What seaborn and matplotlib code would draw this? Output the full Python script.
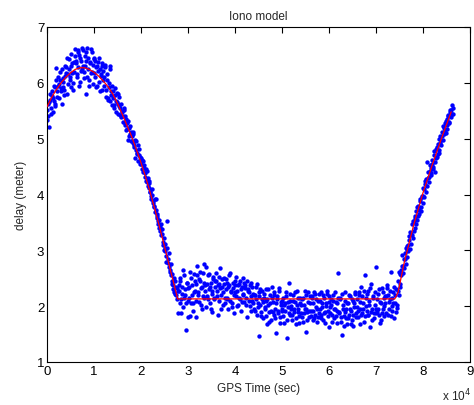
import numpy as np
import pandas as pd
import matplotlib
matplotlib.use("Agg")
import matplotlib.pyplot as plt
import seaborn as sns

# ---- data ----
# measured delay (m): two interleaved sample sets, every 200 s,
# the first starting at t = 0 s, the second at t = 100 s
sample_step = 200
delay_measured_a = [
    5.33, 5.62, 5.21, 5.70, 5.55, 5.76, 5.48, 5.68, 5.93, 5.58,
    6.27, 5.85, 5.95, 5.72, 6.05, 5.90, 5.62, 6.02, 5.88, 6.12,
    6.28, 5.80, 6.15, 6.42, 6.05, 5.92, 6.30, 6.18, 6.00, 6.38,
    6.60, 6.35, 6.10, 6.55, 5.95, 6.45, 6.22, 6.62, 6.30, 6.08,
    6.48, 5.80, 6.40, 6.62, 6.25, 6.05, 6.35, 6.18, 6.55, 5.98,
    6.42, 6.10, 5.92, 6.30, 6.38, 6.02, 6.25, 6.15, 5.88, 6.35,
    6.22, 5.95, 6.28, 5.75, 6.05, 5.70, 5.92, 6.30, 5.78, 5.60,
    5.72, 5.55, 5.90, 5.68, 5.82, 5.62, 5.45, 5.75, 5.55, 5.38,
    5.48, 5.30, 5.55, 5.25, 5.36, 5.18, 5.32, 5.05, 5.22, 4.95,
    5.05, 4.92, 5.12, 4.88, 4.65, 4.95, 4.75, 4.60, 4.82, 4.68,
    4.65, 4.45, 4.60, 4.52, 4.38, 4.25, 4.42, 4.30, 4.12, 4.20,
    4.05, 3.92, 4.10, 3.85, 3.80, 3.68, 3.92, 3.62, 3.48, 3.55,
    3.35, 3.48, 3.30, 3.15, 3.22, 3.05, 2.98, 2.80, 3.52, 2.85,
    2.70, 2.65, 2.55, 2.40, 2.30, 2.50, 2.22, 2.35, 2.12, 2.28,
    2.38, 2.05, 2.45, 1.88, 2.22, 2.65, 2.15, 2.30, 1.58, 2.42,
    2.10, 2.35, 1.82, 2.50, 2.20, 2.05, 2.58, 2.28, 1.80, 2.40,
    2.72, 2.25, 2.08, 2.45, 2.32, 1.95, 2.60, 2.15, 2.38, 2.70,
    2.18, 2.55, 2.30, 2.05, 2.42, 2.22, 1.90, 2.48, 2.12, 2.35,
    2.45, 2.28, 1.85, 2.40, 2.68, 2.20, 2.35, 2.02, 2.50, 2.15,
    2.30, 2.42, 2.12, 1.95, 2.38, 2.60, 2.25, 2.05, 2.32, 1.88,
    2.45, 2.18, 2.28, 2.02, 2.40, 2.12, 1.92, 2.35, 2.50, 2.20,
    2.08, 2.38, 2.15, 1.80, 2.30, 2.25, 2.00, 2.42, 2.10, 2.22,
    1.95, 2.20, 2.35, 1.85, 2.05, 1.47, 2.18, 2.30, 1.90, 2.12,
    1.78, 2.22, 1.98, 2.10, 1.68, 2.30, 1.90, 2.05, 1.75, 2.15,
    2.08, 1.85, 2.25, 1.95, 1.52, 2.12, 1.88, 2.32, 1.80, 2.02,
    1.92, 2.15, 1.70, 2.05, 2.25, 1.43, 1.98, 2.42, 1.85, 2.10,
    2.00, 1.75, 2.20, 1.90, 2.08, 1.68, 2.28, 1.95, 1.82, 2.15,
    1.88, 2.12, 1.72, 2.02, 1.95, 1.53, 2.20, 1.90, 2.25, 1.80,
    2.05, 1.82, 2.18, 1.92, 1.78, 2.22, 1.98, 1.72, 2.10, 1.88,
    1.95, 2.25, 1.85, 2.05, 1.75, 2.15, 1.90, 2.00, 2.28, 1.82,
    1.62, 1.98, 2.12, 1.85, 2.20, 1.78, 1.95, 2.08, 1.70, 1.92,
    2.60, 1.88, 2.15, 1.72, 1.48, 2.02, 1.82, 2.25, 1.95, 1.68,
    2.05, 1.85, 2.18, 1.92, 1.75, 2.10, 1.65, 1.98, 2.25, 1.88,
    2.12, 1.80, 2.20, 1.95, 2.35, 1.88, 2.05, 1.72, 2.55, 2.00,
    1.92, 2.28, 1.85, 2.10, 1.62, 2.40, 1.95, 2.15, 1.78, 2.02,
    2.70, 1.90, 2.22, 1.85, 2.08, 1.75, 2.32, 1.95, 2.15, 1.82,
    2.05, 1.88, 2.38, 2.20, 1.95, 2.12, 2.62, 2.00, 2.25, 1.78,
    2.05, 2.30, 1.96, 2.45, 2.20, 2.58, 2.40, 2.65, 2.92, 2.72,
    2.68, 2.95, 3.05, 2.88, 3.10, 3.25, 3.02, 3.30, 3.48, 3.22,
    3.52, 3.40, 3.62, 3.70, 3.55, 3.80, 3.65, 3.88, 3.78, 3.95,
    3.98, 4.10, 4.25, 4.05, 4.58, 4.30, 4.22, 4.42, 4.35, 4.48,
    4.62, 4.45, 4.78, 4.40, 4.82, 4.68, 4.90, 4.75, 5.05, 4.88,
    5.12, 4.98, 5.20, 5.28, 5.10, 5.35, 5.18, 5.42, 5.30, 5.48,
    5.52, 5.60, 5.45,
]
delay_measured_b = [
    5.52, 5.40, 5.66, 5.80, 5.45, 5.86, 5.72, 5.95, 5.62, 6.05,
    5.75, 6.10, 5.98, 6.20, 5.85, 6.25, 5.92, 6.08, 5.78, 6.30,
    6.18, 6.45, 5.98, 6.25, 6.10, 6.52, 6.35, 5.88, 6.20, 6.48,
    6.40, 6.15, 6.58, 6.28, 6.50, 6.02, 6.40, 6.25, 6.58, 6.20,
    6.30, 6.55, 6.10, 6.45, 5.95, 6.38, 6.60, 6.20, 6.32, 6.45,
    6.18, 6.40, 6.28, 5.95, 6.22, 6.45, 5.85, 6.12, 6.30, 6.05,
    6.10, 6.32, 5.88, 6.15, 5.72, 6.00, 6.25, 5.68, 5.85, 5.95,
    5.85, 5.60, 5.78, 5.48, 5.65, 5.80, 5.58, 5.42, 5.62, 5.50,
    5.40, 5.52, 5.28, 5.40, 5.15, 5.28, 4.98, 5.20, 5.08, 5.12,
    4.95, 5.08, 4.85, 4.98, 4.80, 4.72, 4.88, 4.70, 4.55, 4.62,
    4.55, 4.62, 4.40, 4.48, 4.32, 4.45, 4.22, 4.15, 4.25, 4.05,
    3.98, 4.00, 3.88, 3.78, 3.92, 3.72, 3.58, 3.65, 3.52, 3.40,
    3.42, 3.28, 3.38, 3.10, 3.00, 3.12, 2.90, 3.05, 2.78, 2.95,
    2.62, 2.75, 2.45, 2.58, 2.38, 2.25, 2.45, 2.20, 2.32, 1.88,
    2.28, 2.50, 2.12, 2.35, 1.98, 2.55, 2.20, 2.05, 2.42, 1.80,
    2.32, 2.15, 2.62, 2.05, 2.38, 1.92, 2.25, 2.45, 2.10, 2.55,
    2.20, 2.48, 2.62, 2.02, 2.35, 2.18, 2.42, 2.75, 2.28, 1.98,
    2.40, 2.12, 2.58, 2.35, 1.95, 2.28, 2.52, 2.15, 2.45, 2.60,
    2.18, 2.38, 2.52, 2.10, 2.32, 1.95, 2.48, 2.25, 2.40, 2.05,
    2.48, 2.15, 2.35, 2.55, 2.10, 2.28, 1.98, 2.42, 2.20, 2.38,
    2.25, 2.52, 2.00, 2.38, 2.15, 2.45, 2.30, 2.08, 2.22, 2.42,
    2.32, 2.02, 2.45, 2.28, 2.10, 2.38, 2.18, 1.92, 2.35, 2.05,
    2.20, 1.92, 2.12, 2.40, 1.98, 2.25, 2.02, 1.82, 2.28, 2.08,
    2.15, 1.95, 2.30, 1.82, 2.12, 2.02, 1.72, 2.20, 1.92, 2.35,
    1.90, 2.20, 1.78, 2.05, 2.18, 1.92, 2.28, 1.70, 2.08, 1.95,
    2.10, 1.82, 2.02, 1.92, 2.18, 1.75, 2.08, 1.88, 2.22, 1.95,
    1.85, 2.10, 1.95, 2.25, 1.78, 2.02, 1.90, 2.15, 1.70, 2.05,
    2.02, 1.80, 2.15, 1.88, 2.28, 1.95, 1.75, 2.08, 1.92, 2.18,
    1.92, 2.15, 1.75, 2.05, 2.25, 1.85, 2.12, 1.95, 1.80, 2.22,
    2.10, 1.78, 1.98, 2.20, 1.88, 1.70, 2.05, 2.22, 1.92, 2.08,
    2.18, 1.88, 2.02, 1.72, 2.10, 1.95, 2.25, 1.82, 2.05, 2.15,
    1.90, 2.12, 1.80, 2.22, 1.95, 1.65, 2.10, 1.90, 1.78, 2.05,
    1.78, 2.20, 1.95, 1.68, 2.12, 1.85, 2.05, 2.22, 1.80, 1.98,
    1.92, 2.25, 1.68, 2.08, 1.85, 2.18, 1.95, 2.28, 1.82, 2.15,
    2.22, 1.85, 2.02, 2.32, 1.90, 1.75, 2.18, 1.88, 2.25, 1.95,
    1.88, 2.12, 1.95, 2.30, 1.70, 2.05, 1.88, 2.25, 2.00, 2.18,
    2.18, 2.32, 1.85, 2.08, 2.28, 1.82, 2.15, 1.92, 2.05, 2.35,
    2.20, 1.90, 2.02, 2.28, 2.62, 2.35, 2.55, 2.72, 2.60, 2.85,
    2.85, 2.75, 3.00, 3.08, 2.98, 3.18, 3.32, 3.12, 3.28, 3.52,
    3.35, 3.58, 3.48, 3.78, 3.62, 3.72, 3.92, 3.70, 3.98, 3.85,
    4.12, 3.95, 4.18, 4.28, 4.15, 4.40, 4.32, 4.52, 4.38, 4.55,
    4.50, 4.70, 4.58, 4.65, 4.85, 4.72, 4.80, 5.00, 4.92, 4.98,
    5.05, 5.22, 5.08, 5.15, 5.32, 5.25, 5.40, 5.28, 5.52, 5.38,
    5.45, 5.55,
]
time_a = np.arange(len(delay_measured_a)) * sample_step
time_b = np.arange(len(delay_measured_b)) * sample_step + sample_step // 2

# model curve (red line) vertices
model_time = [0, 1000, 2000, 3000, 4000, 5000, 6000, 7000, 8000, 9000,
              10000, 11000, 12000, 13000, 14000, 15000, 16000, 17000, 18000,
              19000, 20000, 21000, 22000, 23000, 24000, 25000, 26000, 27000,
              27800, 74000, 74700, 76000, 78000, 80000, 82000, 84000, 86000]
model_delay = [5.57, 5.74, 5.88, 6.00, 6.10, 6.18, 6.24, 6.27, 6.27, 6.24,
               6.19, 6.12, 6.03, 5.93, 5.80, 5.63, 5.44, 5.24, 5.04,
               4.81, 4.57, 4.31, 4.02, 3.72, 3.40, 3.07, 2.73, 2.40,
               2.13, 2.13, 2.25, 2.78, 3.45, 4.03, 4.54, 5.02, 5.48]

x_ticks = [0, 10000, 20000, 30000, 40000, 50000, 60000, 70000, 80000, 90000]
x_tick_labels = ["0", "1", "2", "3", "4", "5", "6", "7", "8", "9"]
y_ticks = [1, 2, 3, 4, 5, 6, 7]

meas = pd.DataFrame({
    "t": np.concatenate([time_a, time_b]),
    "d": np.concatenate([delay_measured_a, delay_measured_b]),
})
model = pd.DataFrame({"t": model_time, "d": model_delay})

sns.set_style("white")
plt.rcParams["font.family"] = ["Liberation Sans", "DejaVu Sans"]

fig = plt.figure(figsize=(4.74, 4.06), dpi=100)
ax = fig.add_axes([47 / 474, 43 / 406, 423 / 474, 335 / 406])

sns.scatterplot(data=meas, x="t", y="d", ax=ax, color=(0, 0, 1),
                s=10, linewidth=0, marker="o", zorder=2)
sns.lineplot(data=model, x="t", y="d", ax=ax, color=(1, 0, 0),
             linewidth=0.9, zorder=3, sort=False)

ax.set_xlim(0, 90000)
ax.set_ylim(1, 7)
ax.set_xticks(x_ticks)
ax.set_xticklabels(x_tick_labels)
ax.set_yticks(y_ticks)
ax.tick_params(direction="in", length=4, width=0.8, top=True, right=True,
               labelsize=9.5, pad=2, colors="black")
for sp in ax.spines.values():
    sp.set_color("black")
    sp.set_linewidth(0.8)

ax.set_xlabel("GPS Time (sec)", fontsize=8.5, labelpad=4)
ax.set_ylabel("delay (meter)", fontsize=8.5, labelpad=7)
ax.set_title("Iono model", fontsize=8.5, pad=6)
fig.text(442 / 474, 1 - 404 / 406, r"x 10$^{4}$", fontsize=8.5, ha="left",
         va="bottom")

fig.savefig("out.png", dpi=100)
